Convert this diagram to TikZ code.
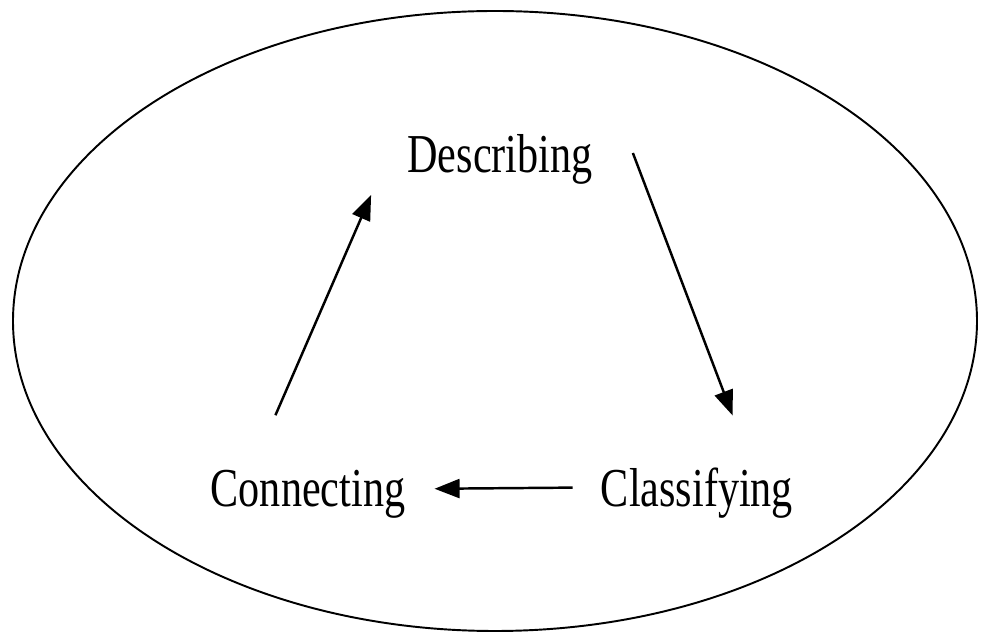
\documentclass[tikz,border=0pt]{standalone}
\usepackage{fontspec}
\setmainfont{Liberation Serif}
\usetikzlibrary{arrows.meta, calc}

\begin{document}
\begin{tikzpicture}[
    stage/.style={inner sep=0pt, font=\fontsize{24}{28}\selectfont, yscale=1.3, transform shape},
    arrow/.style={-{Triangle[length=5mm, width=3.8mm]}, line width=1.4pt},
    frame/.style={line width=1.1pt}
]
\useasboundingbox (0, 0) rectangle (19.62, 12.7);

% Outer ellipse
\draw[frame] (9.9, 6.28) ellipse [x radius=9.64, y radius=6.2];

% Stages
\node[stage, anchor=base] (desc) at (10.0, 9.24) {Describing};
\node[stage, anchor=base] (clas) at (13.94, 2.56) {Classifying};
\node[stage, anchor=base] (conn) at (6.16, 2.56) {Connecting};

% Cycle
\draw[arrow] ($(desc.base east)+(0.8, 0.4)$) -- ($(clas.north west)+(2.64, 1.05)$);
\draw[arrow] ([xshift=-0.56cm, yshift=0.12cm]clas.west) -- ([xshift=0.58cm, yshift=0.12cm]conn.east);
\draw[arrow] ($(conn.north west)+(1.3, 1.1)$) -- ($(desc.base west)+(-0.72, -0.44)$);

\end{tikzpicture}
\end{document}
